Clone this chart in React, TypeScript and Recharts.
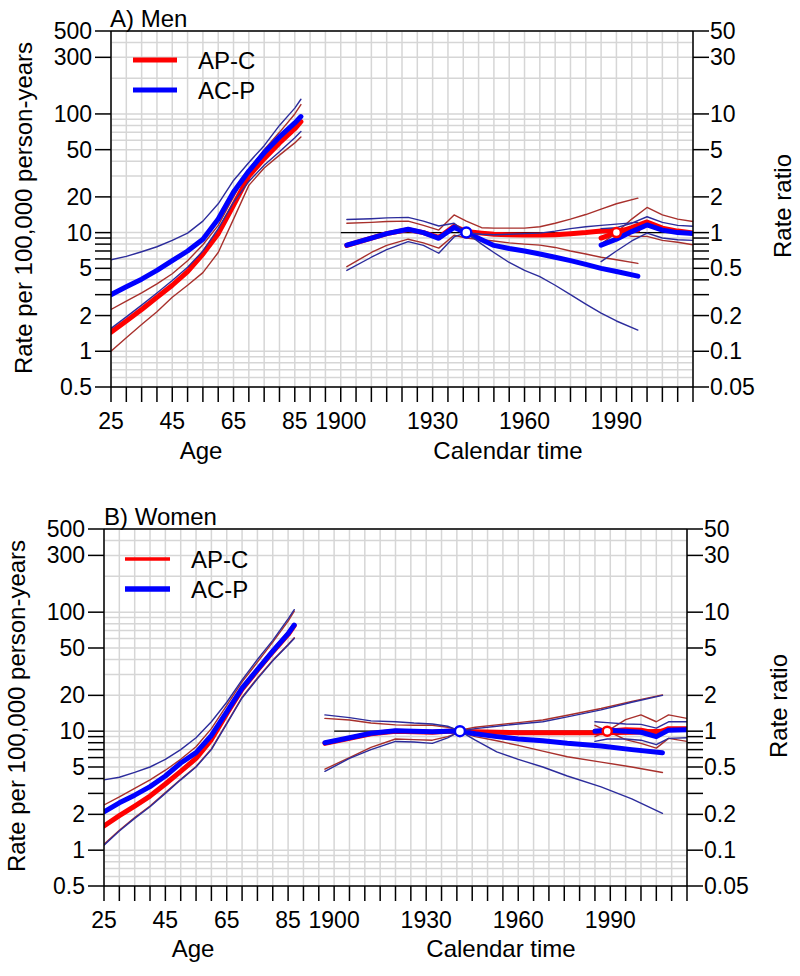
import React from 'react';
import { LineChart, Line, XAxis, YAxis, CartesianGrid, ReferenceDot, ReferenceLine } from 'recharts';

const FONT = '"Liberation Sans", Arial, Helvetica, sans-serif';
const RED = '#ff0000';
const BLUE = '#0000ff';
const RED_CI = '#a8302c';
const BLUE_CI = '#2c2c9c';

// ---------- axes / ticks ----------
const AGE_OFFSET = 1800; // age a is plotted at a + 1800 on the common time axis
const X_DOMAIN = [1825, 2015];
const X_TICKS = [1825, 1830, 1835, 1840, 1845, 1850, 1855, 1860, 1865, 1870, 1875, 1880, 1885, 1890, 1895,
  1900, 1905, 1910, 1915, 1920, 1925, 1930, 1935, 1940, 1945, 1950, 1955, 1960, 1965, 1970, 1975, 1980,
  1985, 1990, 1995, 2000, 2005, 2010, 2015];
const AGE_TICK_LABELS = [25, 45, 65, 85];
const YEAR_TICK_LABELS = [1900, 1930, 1960, 1990];

const RATE_DOMAIN = [0.5, 500];
const RATE_GRID = [0.5, 0.6, 0.7, 0.8, 0.9, 1, 2, 3, 4, 5, 6, 7, 8, 9, 10, 20, 30, 40, 50, 60, 70, 80, 90, 100, 200, 300, 400, 500];
const RATE_LABELS = [0.5, 1, 2, 5, 10, 20, 50, 100, 300, 500];
const RATE_MINOR = [3, 4, 6, 7, 8, 9];

const RR_DOMAIN = [0.05, 50];
const RR_TICKS = [0.05, 0.1, 0.2, 0.3, 0.4, 0.5, 0.6, 0.7, 0.8, 0.9, 1, 2, 5, 10, 30, 50];
const RR_LABELS = [0.05, 0.1, 0.2, 0.5, 1, 2, 5, 10, 30, 50];
const RR_MINOR = [0.3, 0.4, 0.6, 0.7, 0.8, 0.9];

const REF_LINE_YEARS = [1900, 2015];
const REF_LINE_RR = [1, 1];

// ---------- Men ----------
const ageGrid = [25, 30, 35, 40, 45, 50, 55, 60, 65, 70, 75, 80, 85, 87];
const menAgeAPC = [1.45, 1.8, 2.25, 2.85, 3.6, 4.7, 6.6, 9.8, 17, 30, 42, 57, 75, 86];
const menAgeAPCLo = [1.0, 1.3, 1.68, 2.15, 2.85, 3.6, 4.6, 6.8, 13, 25, 35, 45, 57, 64];
const menAgeAPCHi = [2.25, 2.65, 3.1, 3.7, 4.5, 5.8, 7.9, 11.5, 20, 34, 50, 70, 100, 120];
const menAgeACP = [3.0, 3.5, 4.05, 4.8, 5.8, 7.0, 8.8, 13, 22, 33, 47, 64, 84, 95];
const menAgeACPLo = [1.56, 1.95, 2.45, 3.1, 3.95, 5.1, 7.0, 10.8, 18, 27, 37, 48, 63, 71];
const menAgeACPHi = [5.9, 6.3, 6.9, 7.6, 8.6, 9.9, 12.5, 17.5, 27.5, 39, 54, 80, 112, 133];

const menCohYears = [1902, 1910, 1915, 1922, 1927, 1932, 1937, 1941, 1946, 1950, 1955, 1960, 1965, 1970, 1975, 1980, 1985, 1990, 1997];
const menCohACP = [0.785, 0.9, 0.98, 1.066, 1.0, 0.895, 1.107, 1.0, 0.87, 0.78, 0.735, 0.7, 0.66, 0.62, 0.58, 0.54, 0.5, 0.47, 0.43];
const menCohACPLo = [0.48, 0.62, 0.72, 0.84, 0.78, 0.67, 0.92, 1.0, 0.8, 0.68, 0.56, 0.48, 0.425, 0.36, 0.3, 0.25, 0.21, 0.18, 0.151];
const menCohACPHi = [1.29, 1.31, 1.33, 1.345, 1.25, 1.136, 1.2, 1.0, 0.97, 0.96, 0.97, 0.98, 0.99, 1.03, 1.08, 1.12, 1.15, 1.18, 1.22];
const menCohAPC = [0.78, 0.9, 0.98, 1.06, 1.0, 0.91, 1.13, 1.02, 0.99, 0.97, 0.96, 0.955, 0.955, 0.96, 0.98, 1.0, 1.03, 1.04, 1.05];
const menCohAPCLo = [0.516, 0.68, 0.78, 0.88, 0.82, 0.74, 0.95, 0.9, 0.87, 0.85, 0.82, 0.8, 0.785, 0.75, 0.7, 0.66, 0.62, 0.59, 0.55];
const menCohAPCHi = [1.2, 1.22, 1.24, 1.25, 1.15, 1.05, 1.41, 1.25, 1.1, 1.09, 1.09, 1.09, 1.12, 1.2, 1.3, 1.42, 1.58, 1.75, 1.95];

const menPerYears = [1985, 1990, 1995, 2000, 2005, 2010, 2015];
const menPerAPC = [0.9, 1.0, 1.1, 1.23, 1.09, 1.03, 0.99];
const menPerAPCLo = [0.8, 1.0, 0.93, 0.93, 0.86, 0.83, 0.79];
const menPerAPCHi = [1.02, 1.0, 1.3, 1.63, 1.41, 1.3, 1.24];
const menPerACP = [0.785, 0.88, 1.02, 1.16, 1.05, 1.0, 0.985];
const menPerACPLo = [0.57, 0.7, 0.85, 0.99, 0.9, 0.87, 0.86];
const menPerACPHi = [1.08, 1.1, 1.2, 1.36, 1.22, 1.15, 1.13];

const menRefCohort = [1941, 1];
const menRefPeriod = [1990, 1];

// ---------- Women ----------
const womenAgeAPC = [1.6, 1.95, 2.35, 2.85, 3.6, 4.6, 5.9, 8.5, 14, 22.5, 32.5, 46.5, 65, 77];
const womenAgeAPCLo = [1.12, 1.47, 1.88, 2.35, 3.05, 3.95, 5.05, 7.1, 11.7, 19.3, 28, 39.5, 53.5, 61];
const womenAgeAPCHi = [2.4, 2.8, 3.3, 3.9, 4.7, 5.8, 7.4, 10.5, 16.5, 26, 38, 56, 84, 102];
const womenAgeACP = [2.1, 2.5, 2.9, 3.42, 4.2, 5.4, 6.6, 9.2, 14.5, 23, 33, 47, 66, 78];
const womenAgeACPLo = [1.1, 1.45, 1.85, 2.32, 3.0, 3.9, 5.0, 7.0, 11.5, 19, 27.5, 39, 53, 60];
const womenAgeACPHi = [3.9, 4.1, 4.5, 5.0, 5.8, 7.0, 8.8, 12, 17.5, 27, 40, 58, 88, 105];

const womenCohYears = [1897, 1905, 1912, 1920, 1926, 1932, 1937, 1941, 1946, 1953, 1960, 1968, 1976, 1987, 1997, 2007];
const womenCohACP = [0.8, 0.88, 0.96, 1.01, 1.0, 0.99, 1.0, 1.0, 0.95, 0.9, 0.86, 0.83, 0.79, 0.75, 0.7, 0.66];
const womenCohACPLo = [0.46, 0.59, 0.7, 0.82, 0.81, 0.79, 0.88, 1.0, 0.84, 0.67, 0.58, 0.5, 0.42, 0.34, 0.27, 0.204];
const womenCohACPHi = [1.37, 1.3, 1.22, 1.2, 1.17, 1.15, 1.1, 1.0, 1.05, 1.1, 1.15, 1.2, 1.32, 1.51, 1.75, 2.0];
const womenCohAPC = [0.79, 0.87, 0.95, 1.0, 0.99, 0.98, 1.0, 1.0, 0.99, 0.98, 0.97, 0.97, 0.97, 0.97, 0.98, 1.0];
const womenCohAPCLo = [0.48, 0.6, 0.73, 0.86, 0.85, 0.84, 0.9, 0.98, 0.9, 0.83, 0.76, 0.68, 0.61, 0.55, 0.5, 0.45];
const womenCohAPCHi = [1.28, 1.24, 1.17, 1.13, 1.12, 1.12, 1.08, 1.02, 1.08, 1.13, 1.18, 1.24, 1.36, 1.55, 1.78, 2.02];

const womenPerYears = [1985, 1989, 1995, 2000, 2005, 2009, 2015];
const womenPerAPC = [1.0, 1.0, 1.03, 1.02, 0.96, 1.05, 1.05];
const womenPerAPCLo = [0.9, 1.0, 0.85, 0.79, 0.72, 0.87, 0.82];
const womenPerAPCHi = [1.12, 1.0, 1.25, 1.37, 1.2, 1.37, 1.28];
const womenPerACP = [1.0, 1.02, 1.0, 0.98, 0.9, 1.02, 1.03];
const womenPerACPLo = [0.82, 0.86, 0.86, 0.84, 0.77, 0.87, 0.88];
const womenPerACPHi = [1.2, 1.18, 1.15, 1.14, 1.06, 1.2, 1.2];

const womenRefCohort = [1941, 1];
const womenRefPeriod = [1989, 1];

// ---------- helpers ----------
type Pt = { x: number; y: number };
const pts = (xs: number[], ys: number[], off = 0): Pt[] => xs.map((x, i) => ({ x: x + off, y: ys[i] }));

type Series = { key: string; data: Pt[]; axis: 'rate' | 'rr'; color: string; width: number };

function modelSeries(prefix: string, color: string, ci: string,
  age: number[][], coh: [number[], number[][]], per: [number[], number[][]]): Series[] {
  const out: Series[] = [];
  const names = ['est', 'lo', 'hi'];
  age.forEach((ys, i) => out.push({ key: `${prefix}-age-${names[i]}`, data: pts(ageGrid, ys, AGE_OFFSET), axis: 'rate', color: i === 0 ? color : ci, width: i === 0 ? 5 : 1.4 }));
  per[1].forEach((ys, i) => out.push({ key: `${prefix}-per-${names[i]}`, data: pts(per[0], ys), axis: 'rr', color: i === 0 ? color : ci, width: i === 0 ? 5 : 1.4 }));
  coh[1].forEach((ys, i) => out.push({ key: `${prefix}-coh-${names[i]}`, data: pts(coh[0], ys), axis: 'rr', color: i === 0 ? color : ci, width: i === 0 ? 5 : 1.4 }));
  return out;
}

const fmt = (v: number) => String(v);

type Geo = { left: number; right: number; top: number; bottom: number; chartTop: number; chartH: number };

function Panel({ geo, series, refCoh, refPer }: { geo: Geo; series: Series[]; refCoh: number[]; refPer: number[] }) {
  const yAxisW = 60;
  const xAxisH = 50;
  const margin = {
    top: geo.top - geo.chartTop,
    left: geo.left - yAxisW,
    right: 800 - geo.right - yAxisW,
    bottom: geo.chartTop + geo.chartH - geo.bottom - xAxisH,
  };
  const txt = { fontSize: 23, fontFamily: FONT, fill: '#000' } as const;

  const leftTick = (p: any) => {
    const v = p.payload.value;
    const y = p.y;
    const ax = geo.left;
    const lab = RATE_LABELS.includes(v);
    const minor = RATE_MINOR.includes(v);
    if (!lab && !minor) return <g />;
    return (
      <g>
        <line x1={ax - 16} x2={ax} y1={y} y2={y} stroke="#000" strokeWidth={1.5} />
        {lab && <text x={ax - 19} y={y} textAnchor="end" dominantBaseline="central" {...txt}>{fmt(v)}</text>}
      </g>
    );
  };
  const rightTick = (p: any) => {
    const v = p.payload.value;
    const y = p.y;
    const ax = geo.right;
    const lab = RR_LABELS.includes(v);
    const minor = RR_MINOR.includes(v);
    if (!lab && !minor) return <g />;
    return (
      <g>
        <line x1={ax} x2={ax + 16} y1={y} y2={y} stroke="#000" strokeWidth={1.5} />
        {lab && <text x={ax + 17} y={y} textAnchor="start" dominantBaseline="central" {...txt}>{fmt(v)}</text>}
      </g>
    );
  };
  const bottomTick = (p: any) => {
    const v = p.payload.value;
    const x = p.x;
    const ay = geo.bottom - geo.chartTop;
    let label: string | null = null;
    if (AGE_TICK_LABELS.includes(v - AGE_OFFSET) && v < 1900) label = String(v - AGE_OFFSET);
    if (YEAR_TICK_LABELS.includes(v)) label = String(v);
    return (
      <g>
        <line x1={x} x2={x} y1={ay} y2={ay + 15} stroke="#000" strokeWidth={1.5} />
        {label && <text x={x} y={ay + 34} textAnchor="middle" dominantBaseline="central" {...txt}>{label}</text>}
      </g>
    );
  };

  return (
    <div style={{ position: 'absolute', left: 0, top: geo.chartTop }}>
      <LineChart width={800} height={geo.chartH} margin={margin}>
        <CartesianGrid yAxisId="rate" stroke="#d6d6d6" strokeWidth={1.5} />
        <XAxis dataKey="x" type="number" domain={X_DOMAIN} ticks={X_TICKS} interval={0} allowDataOverflow
          height={xAxisH} tick={bottomTick} tickLine={false} axisLine={{ stroke: '#000', strokeWidth: 1.5 }} />
        <YAxis yAxisId="rate" type="number" scale="log" domain={RATE_DOMAIN} ticks={RATE_GRID} interval={0}
          allowDataOverflow width={yAxisW} tick={leftTick} tickLine={false} axisLine={{ stroke: '#000', strokeWidth: 1.5 }} />
        <YAxis yAxisId="rr" orientation="right" type="number" scale="log" domain={RR_DOMAIN} ticks={RR_TICKS} interval={0}
          allowDataOverflow width={yAxisW} tick={rightTick} tickLine={false} axisLine={{ stroke: '#000', strokeWidth: 1.5 }} />
        <ReferenceLine yAxisId="rate" y={RATE_DOMAIN[1]} stroke="#000" strokeWidth={1.5} />
        <Line yAxisId="rr" data={pts(REF_LINE_YEARS, REF_LINE_RR)} dataKey="y" stroke="#000" strokeWidth={1.2}
          dot={false} activeDot={false} isAnimationActive={false} />
        {series.map((s) => (
          <Line key={s.key} yAxisId={s.axis} data={s.data} dataKey="y" type="linear" stroke={s.color}
            strokeWidth={s.width} strokeLinecap="round" strokeLinejoin="round" dot={false} activeDot={false}
            isAnimationActive={false} />
        ))}
        <ReferenceDot yAxisId="rr" x={refCoh[0]} y={refCoh[1]} r={5} fill="#fff" stroke={BLUE} strokeWidth={2.5} />
        <ReferenceDot yAxisId="rr" x={refPer[0]} y={refPer[1]} r={4.5} fill="#fff" stroke={RED} strokeWidth={2.5} />
      </LineChart>
    </div>
  );
}

const menSeries: Series[] = [
  ...modelSeries('apc', RED, RED_CI, [menAgeAPC, menAgeAPCLo, menAgeAPCHi],
    [menCohYears, [menCohAPC, menCohAPCLo, menCohAPCHi]], [menPerYears, [menPerAPC, menPerAPCLo, menPerAPCHi]]),
  ...modelSeries('acp', BLUE, BLUE_CI, [menAgeACP, menAgeACPLo, menAgeACPHi],
    [menCohYears, [menCohACP, menCohACPLo, menCohACPHi]], [menPerYears, [menPerACP, menPerACPLo, menPerACPHi]]),
];
const womenSeries: Series[] = [
  ...modelSeries('apc', RED, RED_CI, [womenAgeAPC, womenAgeAPCLo, womenAgeAPCHi],
    [womenCohYears, [womenCohAPC, womenCohAPCLo, womenCohAPCHi]], [womenPerYears, [womenPerAPC, womenPerAPCLo, womenPerAPCHi]]),
  ...modelSeries('acp', BLUE, BLUE_CI, [womenAgeACP, womenAgeACPLo, womenAgeACPHi],
    [womenCohYears, [womenCohACP, womenCohACPLo, womenCohACPHi]], [womenPerYears, [womenPerACP, womenPerACPLo, womenPerACPHi]]),
];

const geoA: Geo = { left: 111, right: 693, top: 31, bottom: 387, chartTop: 0, chartH: 480 };
const geoB: Geo = { left: 104, right: 687, top: 529, bottom: 886, chartTop: 490, chartH: 486 };

export default function App() {
  const t = { fontFamily: FONT, fill: '#000', fontSize: 24 } as const;
  return (
    <div style={{ position: 'absolute', left: 0, top: 0, width: 800, height: 976, background: '#fff', overflow: 'hidden' }}>
      <Panel geo={geoA} series={menSeries} refCoh={menRefCohort} refPer={menRefPeriod} />
      <Panel geo={geoB} series={womenSeries} refCoh={womenRefCohort} refPer={womenRefPeriod} />
      <svg width={800} height={976} style={{ position: 'absolute', left: 0, top: 0, pointerEvents: 'none' }}>
        {/* Panel A texts */}
        <text x={110} y={27} {...t}>A) Men</text>
        <line x1={133} x2={177} y1={60} y2={60} stroke={RED} strokeWidth={5} />
        <line x1={133} x2={177} y1={90} y2={90} stroke={BLUE} strokeWidth={5} />
        <text x={198} y={60} dominantBaseline="central" {...t}>AP-C</text>
        <text x={198} y={90} dominantBaseline="central" {...t}>AC-P</text>
        <text x={201} y={450} textAnchor="middle" dominantBaseline="central" {...t}>Age</text>
        <text x={508} y={450} textAnchor="middle" dominantBaseline="central" {...t}>Calendar time</text>
        <text transform="translate(23,208) rotate(-90)" textAnchor="middle" dominantBaseline="central" {...t}>Rate per 100,000 person-years</text>
        <text transform="translate(782,206) rotate(-90)" textAnchor="middle" dominantBaseline="central" {...t}>Rate ratio</text>
        {/* Panel B texts */}
        <text x={104} y={525} {...t}>B) Women</text>
        <line x1={125} x2={170} y1={559} y2={559} stroke={RED} strokeWidth={3.5} />
        <line x1={125} x2={170} y1={589} y2={589} stroke={BLUE} strokeWidth={5.5} />
        <text x={191} y={559} dominantBaseline="central" {...t}>AP-C</text>
        <text x={191} y={589} dominantBaseline="central" {...t}>AC-P</text>
        <text x={193} y={948} textAnchor="middle" dominantBaseline="central" {...t}>Age</text>
        <text x={501} y={948} textAnchor="middle" dominantBaseline="central" {...t}>Calendar time</text>
        <text transform="translate(16,706) rotate(-90)" textAnchor="middle" dominantBaseline="central" {...t}>Rate per 100,000 person-years</text>
        <text transform="translate(778,706) rotate(-90)" textAnchor="middle" dominantBaseline="central" {...t}>Rate ratio</text>
      </svg>
    </div>
  );
}
